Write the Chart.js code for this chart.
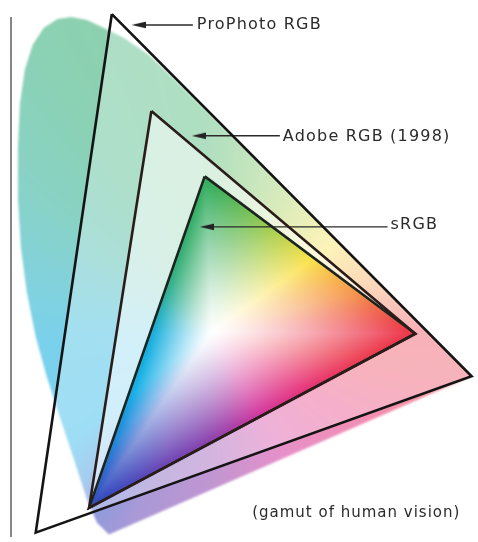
<!DOCTYPE html>
<html>
<head>
<meta charset="utf-8">
<meta name="viewport" content="width=device-width, initial-scale=1.0">
<script src="https://cdn.jsdelivr.net/npm/chart.js/dist/chart.umd.min.js"></script>
<style>
    body { margin: 0; background: #fff; }
    #wrap { width: 478px; height: 542px; position: relative; }
</style>
</head>
<body>
<div id="wrap"><canvas id="gamut"></canvas></div>
<script>
    // Spectral locus (horseshoe of human vision)
    const locusX = [110, 98, 88, 75, 60, 47, 36, 27, 21, 18, 18, 20, 25, 33, 44, 58, 72, 88, 105, 125, 150, 175, 200, 240, 270, 300, 340, 380, 420, 450, 477];
    const locusY = [540, 528, 505, 465, 420, 380, 340, 295, 250, 200, 150, 105, 70, 45, 28, 19, 17, 20, 28, 38, 55, 78, 103, 142, 172, 202, 242, 283, 323, 353, 380];

    // Gamut triangles: green, red, blue primaries
    const proPhotoX = [113, 477, 36];
    const proPhotoY = [14, 380, 538];
    const adobeX = [153, 420, 90];
    const adobeY = [112, 337, 513];
    const srgbX = [207, 420, 90];
    const srgbY = [178, 337, 513];
    const whitePoint = [215, 335];

    // Callouts
    const calloutText = ['ProPhoto RGB', 'Adobe RGB (1998)', 'sRGB'];
    const arrowHeadX = [140, 201, 209];
    const arrowEndX = [195, 283, 392];
    const arrowY = [25, 137, 229];
    const calloutTextX = [199, 286, 395];
    const calloutTextY = [25, 138, 227];
    const footnote = '(gamut of human vision)';
    const footnoteX = 255;
    const footnoteY = 518;

    Chart.defaults.font.family = '"DejaVu Sans"';

    function pts(xs, ys, close) {
        const d = xs.map((x, i) => ({ x: x, y: ys[i] }));
        if (close) d.push(d[0]);
        return d;
    }

    // arrowhead image used as point style
    const arrowHead = (() => {
        const c = document.createElement('canvas');
        c.width = 14; c.height = 8;
        const g = c.getContext('2d');
        g.fillStyle = '#222';
        g.beginPath();
        g.moveTo(0, 4); g.lineTo(14, 0.8); g.lineTo(14, 7.2);
        g.closePath(); g.fill();
        return c;
    })();

    // hue around the white point (degrees, clockwise on screen) -> saturated colour
    const hueStops = [
        [0, [235, 50, 70]], [10, [235, 55, 75]], [30, [230, 45, 115]], [60, [210, 50, 155]], [90, [140, 60, 170]],
        [112, [100, 65, 180]], [125, [40, 70, 190]], [131, [20, 125, 215]], [142, [0, 168, 228]],
        [178, [10, 170, 218]], [200, [25, 172, 185]], [218, [35, 172, 150]], [240, [40, 170, 115]],
        [268, [45, 170, 90]], [300, [165, 205, 75]], [324, [250, 225, 70]], [345, [245, 145, 70]],
        [360, [235, 50, 70]]
    ];

    function buildLut() {
        const lut = [];
        for (let i = 0; i < 720; i++) {
            const a = i / 2;
            let j = 0;
            while (j < hueStops.length - 2 && hueStops[j + 1][0] < a) j++;
            const [a0, c0] = hueStops[j], [a1, c1] = hueStops[j + 1];
            const t = Math.min(1, Math.max(0, (a - a0) / (a1 - a0)));
            lut.push([0, 1, 2].map(k => c0[k] + (c1[k] - c0[k]) * t));
        }
        return lut;
    }

    function inTri(x, y, t) {
        const s = (p, q) => (q[0] - p[0]) * (y - p[1]) - (q[1] - p[1]) * (x - p[0]);
        const d1 = s(t[0], t[1]), d2 = s(t[1], t[2]), d3 = s(t[2], t[0]);
        const neg = d1 < 0 || d2 < 0 || d3 < 0, pos = d1 > 0 || d2 > 0 || d3 > 0;
        return !(neg && pos);
    }

    // how far p sits from the white point, relative to the sRGB edge along the same ray
    function ratio(w, dx, dy, tri) {
        let best = Infinity;
        for (let i = 0; i < 3; i++) {
            const A = tri[i], B = tri[(i + 1) % 3];
            const ex = B[0] - A[0], ey = B[1] - A[1];
            const den = dx * ey - dy * ex;
            if (Math.abs(den) < 1e-9) continue;
            const ax = A[0] - w[0], ay = A[1] - w[1];
            const t = (ax * ey - ay * ex) / den;
            const s = (ax * dy - ay * dx) / den;
            if (t > 0 && s >= -0.001 && s <= 1.001 && t < best) best = t;
        }
        return best === Infinity ? 0 : 1 / best;
    }

    const gamutFill = {
        id: 'gamutFill',
        beforeDatasetsDraw(chart) {
            const { ctx, width, height } = chart;
            const P = i => chart.getDatasetMeta(i).data.map(e => [e.x, e.y]);
            const locus = P(0), pro = P(1).slice(0, 3), ado = P(2).slice(0, 3), srgb = P(3).slice(0, 3);
            const w = P(4)[0];
            const W = Math.ceil(width), H = Math.ceil(height);

            const field = document.createElement('canvas');
            field.width = W; field.height = H;
            const fctx = field.getContext('2d');
            const img = fctx.createImageData(W, H);
            const lut = buildLut();
            for (let y = 0; y < H; y++) {
                for (let x = 0; x < W; x++) {
                    const px = x + 0.5, py = y + 0.5;
                    const dx = px - w[0], dy = py - w[1];
                    let a = Math.atan2(dy, dx) * 180 / Math.PI;
                    if (a < 0) a += 360;
                    const c = lut[Math.round(a * 2) % 720];
                    let k;
                    if (inTri(px, py, srgb)) k = Math.min(1, Math.pow(ratio(w, dx, dy, srgb), 1.25));
                    else if (inTri(px, py, ado)) k = 0.18;
                    else if (inTri(px, py, pro)) k = 0.38;
                    else k = 0.54;
                    const o = (y * W + x) * 4;
                    img.data[o] = 255 + (c[0] - 255) * k;
                    img.data[o + 1] = 255 + (c[1] - 255) * k;
                    img.data[o + 2] = 255 + (c[2] - 255) * k;
                    img.data[o + 3] = 255;
                }
            }
            fctx.putImageData(img, 0, 0);

            const mask = document.createElement('canvas');
            mask.width = W; mask.height = H;
            const m = mask.getContext('2d');
            m.beginPath();
            locus.forEach(([x, y], i) => i ? m.lineTo(x, y) : m.moveTo(x, y));
            m.closePath();
            m.fillStyle = '#000';
            m.fill();
            m.globalCompositeOperation = 'source-in';
            m.drawImage(field, 0, 0);

            ctx.save();
            ctx.filter = 'blur(1.3px)';
            ctx.drawImage(mask, 0, 0, W, H);
            ctx.restore();
        },
        afterDatasetsDraw(chart) {
            const { ctx, scales: { x, y } } = chart;
            ctx.save();
            ctx.fillStyle = '#2b2b2b';
            ctx.textBaseline = 'middle';
            ctx.textAlign = 'left';
            ctx.font = '16px "DejaVu Sans"';
            ctx.letterSpacing = '1.2px';
            calloutText.forEach((t, i) => {
                ctx.fillText(t, x.getPixelForValue(calloutTextX[i]), y.getPixelForValue(calloutTextY[i]));
            });
            ctx.font = '15px "DejaVu Sans"';
            ctx.letterSpacing = '1px';
            ctx.fillText(footnote, x.getPixelForValue(footnoteX), y.getPixelForValue(footnoteY));
            ctx.restore();
        }
    };

    const triStyle = (color) => ({
        showLine: true, borderColor: color, borderWidth: 2.6, pointRadius: 0,
        borderJoinStyle: 'miter', fill: false, clip: false
    });

    const arrows = calloutText.map((t, i) => ({
        label: t + ' arrow',
        data: [{ x: arrowHeadX[i], y: arrowY[i] }, { x: arrowEndX[i], y: arrowY[i] }],
        showLine: true, borderColor: '#2a2a2a', borderWidth: 1.4,
        pointStyle: arrowHead, pointRadius: [4, 0], clip: false
    }));

    const ctx = document.getElementById('gamut').getContext('2d');

    const myChart = new Chart(ctx, {
        type: 'scatter',
        data: {
            datasets: [
                { label: 'locus', data: pts(locusX, locusY, false), pointRadius: 0, showLine: false, clip: false },
                Object.assign({ label: 'ProPhoto RGB', data: pts(proPhotoX, proPhotoY, true) }, triStyle('#141414')),
                Object.assign({ label: 'Adobe RGB (1998)', data: pts(adobeX, adobeY, true) }, triStyle('#2a1c19')),
                Object.assign({ label: 'sRGB', data: pts(srgbX, srgbY, true) }, triStyle('#1c241e')),
                { label: 'white', data: [{ x: whitePoint[0], y: whitePoint[1] }], pointRadius: 0, clip: false }
            ].concat(arrows)
        },
        plugins: [gamutFill],
        options: {
            responsive: true,
            maintainAspectRatio: false,
            animation: false,
            events: [],
            layout: { padding: { left: 11, top: 18, right: 0, bottom: 0 } },
            plugins: {
                legend: { display: false },
                tooltip: { enabled: false }
            },
            scales: {
                x: { type: 'linear', display: false, min: 11, max: 478 },
                y: {
                    type: 'linear', reverse: true, min: 18, max: 542, position: 'left',
                    grid: { display: false, drawTicks: false },
                    ticks: { display: false },
                    border: { display: true, color: '#8c8484', width: 2 },
                    afterFit(s) { s.width = 0; }
                }
            }
        }
    });
</script>
</body>
</html>
